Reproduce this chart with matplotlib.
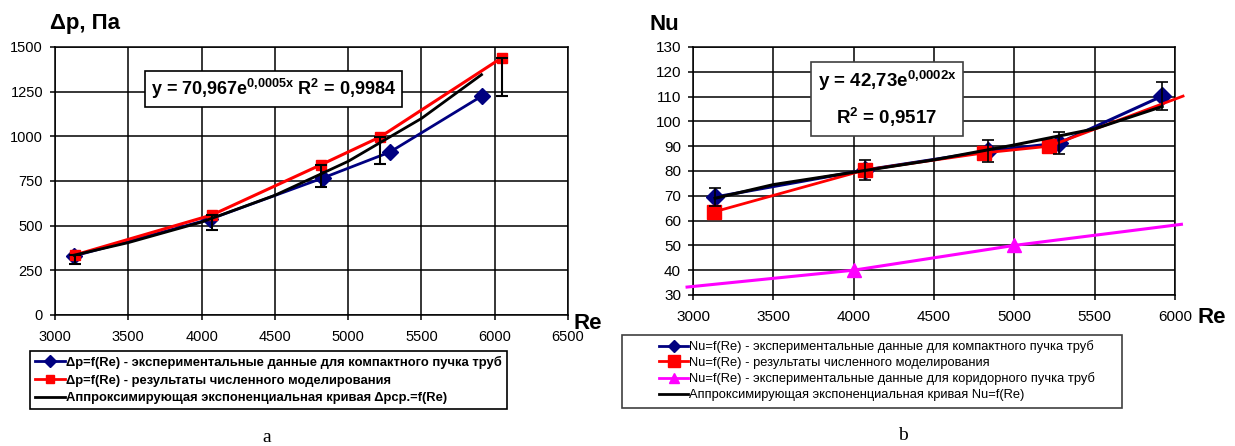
import numpy as np
import matplotlib
matplotlib.use("Agg")
import matplotlib.pyplot as plt
from matplotlib.lines import Line2D
from matplotlib.patches import Rectangle

plt.rcParams['font.family'] = ['Liberation Sans', 'DejaVu Sans']
plt.rcParams['mathtext.fontset'] = 'custom'
plt.rcParams['mathtext.rm'] = 'Liberation Sans:bold'
plt.rcParams['mathtext.it'] = 'Liberation Sans:bold'
plt.rcParams['mathtext.bf'] = 'Liberation Sans:bold'

# --- chart a: pressure drop ---
re_exp_a = [3130, 4060, 4828, 5285, 5913]
dp_exp = [330, 537, 767, 912, 1226]
re_num_a = [3136, 4071, 4812, 5217, 6049]
dp_num = [336, 560, 840, 996, 1440]
dp_err_minus = [50, 84, 126, 150, 216]
re_fit_a = [3130, 3500, 4000, 4500, 5000, 5500, 5910]
dp_fit = [335, 405, 520, 670, 860, 1100, 1345]

# --- chart b: Nusselt number ---
re_exp_b = [3137, 4070, 4837, 5279, 5920]
nu_exp = [69.5, 80.4, 88.0, 91.3, 110.2]
nu_err = [3.5, 4.0, 4.4, 4.6, 5.5]
re_num_b = [3130, 4071, 4812, 5217, 6050]
nu_num = [63.5, 80.4, 87.3, 90.0, 110.2]
re_corr = [2963, 4000, 5000, 6040]
nu_corr = [33.2, 40.0, 50.0, 58.5]
re_fit_b = [3137, 3500, 4000, 4500, 5000, 5500, 5920]
nu_fit = [69.0, 74.5, 79.5, 84.5, 90.5, 97.0, 106.0]

BLUE = '#000080'
RED = '#FF0000'
MAG = '#FF00FF'

fig = plt.figure(figsize=(12.35, 4.46), dpi=100)
W, H = 1235, 446

def px_axes(x0, y0, x1, y1):
    return fig.add_axes([x0 / W, 1 - y1 / H, (x1 - x0) / W, (y1 - y0) / H])

def style_axes(ax, fs):
    ax.grid(True, color='black', lw=1.1)
    ax.set_axisbelow(True)
    for s in ax.spines.values():
        s.set_color('black')
        s.set_linewidth(1.1)
    ax.tick_params(direction='out', length=3.6, width=1.1, labelsize=fs, pad=5)
    ax.tick_params(axis='x', pad=7)

# ---------------- a ----------------
ax1 = px_axes(55, 47, 568, 315)
style_axes(ax1, 10.5)
ax1.set_xlim(3000, 6500)
ax1.set_ylim(0, 1500)
ax1.set_xticks(np.arange(3000, 6501, 500))
ax1.set_yticks(np.arange(0, 1501, 250))

ax1.plot(re_exp_a, dp_exp, color=BLUE, lw=2, marker='D', ms=8, zorder=3)
ax1.plot(re_num_a, dp_num, color=RED, lw=2.2, marker='s', ms=7.5, zorder=4, clip_on=False)
ax1.errorbar(re_num_a, dp_num, yerr=[dp_err_minus, [0] * len(dp_num)], fmt='none',
             ecolor='black', elinewidth=1.5, capsize=4, capthick=1.5, zorder=5)
ax1.plot(re_fit_a, dp_fit, color='black', lw=2, zorder=4)

ax1.text(-0.01, 1.05, 'Δp, Па', transform=ax1.transAxes, fontsize=16,
         fontweight='bold', ha='left', va='bottom')
ax1.text(1.01, -0.03, 'Re', transform=ax1.transAxes, fontsize=16,
         fontweight='bold', ha='left', va='center')
ax1.text(3655, 1265, r'y = 70,967e$^{0{,}0005x}$ R$^{2}$ = 0,9984',
         fontsize=13, fontweight='bold', ha='left', va='center',
         bbox=dict(boxstyle='square,pad=0.35', fc='white', ec='black', lw=1.2), zorder=6)

h1 = [Line2D([], [], color=BLUE, lw=2, marker='D', ms=6),
      Line2D([], [], color=RED, lw=2, marker='s', ms=6),
      Line2D([], [], color='black', lw=2)]
l1 = ['Δp=f(Re) - экспериментальные данные для компактного пучка труб',
      'Δp=f(Re) - результаты численного моделирования',
      'Аппроксимирующая экспоненциальная кривая Δpср.=f(Re)']
leg1 = fig.legend(h1, l1, loc='upper left', bbox_to_anchor=(30 / W, 1 - 351 / H),
                  borderaxespad=0, fancybox=False, edgecolor='black', framealpha=1,
                  prop=dict(weight='bold', size=9.4), handlelength=2.3,
                  handletextpad=0.1, labelspacing=0.42, borderpad=0.38)
leg1.get_frame().set_linewidth(1.2)

fig.text(267 / W, 1 - 437 / H, 'a', fontsize=14, family='Liberation Serif',
         ha='center', va='center')

# ---------------- b ----------------
ax2 = px_axes(693, 47, 1175, 295)
style_axes(ax2, 11)
ax2.set_xlim(3000, 6000)
ax2.set_ylim(30, 130)
ax2.set_xticks(np.arange(3000, 6001, 500))
ax2.set_yticks(np.arange(30, 131, 10))

ax2.plot(re_corr, nu_corr, color=MAG, lw=2.2, clip_on=False, zorder=3)
mc = [(x, y) for x, y in zip(re_corr, nu_corr) if 3000 <= x <= 6000]
ax2.plot([p[0] for p in mc], [p[1] for p in mc], ls='none', marker='^', ms=10,
         color=MAG, clip_on=False, zorder=3)
ax2.plot(re_exp_b, nu_exp, color=BLUE, lw=2.2, marker='D', ms=9, zorder=3)
ax2.errorbar(re_exp_b, nu_exp, yerr=nu_err, fmt='none', ecolor='black',
             elinewidth=1.2, capsize=4, capthick=1.2, zorder=5)
ax2.plot(re_num_b, nu_num, color=RED, lw=2, clip_on=False, zorder=4)
mr = [(x, y) for x, y in zip(re_num_b, nu_num) if 3000 <= x <= 6000]
ax2.plot([p[0] for p in mr], [p[1] for p in mr], ls='none', marker='s', ms=10,
         color=RED, zorder=4)
ax2.plot(re_fit_b, nu_fit, color='black', lw=2.2, zorder=4)

ax2.text(-0.09, 1.05, 'Nu', transform=ax2.transAxes, fontsize=16,
         fontweight='bold', ha='left', va='bottom')
ax2.text(1.047, -0.09, 'Re', transform=ax2.transAxes, fontsize=16,
         fontweight='bold', ha='left', va='center')
ax2.text(4207, 109, 'y = 42,73e$^{0{,}0002x}$\nR$^{2}$ = 0,9517',
         fontsize=13.5, fontweight='bold', ha='center', va='center',
         multialignment='center', linespacing=1.7,
         bbox=dict(boxstyle='square,pad=0.35', fc='white', ec='#404040', lw=1.2), zorder=6)

h2 = [Line2D([], [], color=BLUE, lw=2, marker='D', ms=6),
      Line2D([], [], color=RED, lw=2, marker='s', ms=8),
      Line2D([], [], color=MAG, lw=2, marker='^', ms=7),
      Line2D([], [], color='black', lw=2)]
l2 = ['Nu=f(Re) - экспериментальные данные для компактного пучка труб',
      'Nu=f(Re) - результаты численного моделирования',
      'Nu=f(Re) - экспериментальные данные для коридорного пучка труб',
      'Аппроксимирующая экспоненциальная кривая Nu=f(Re)']
fig.add_artist(Rectangle((622 / W, 1 - 408 / H), 500 / W, 73 / H,
                         transform=fig.transFigure, fc='white', ec='#404040', lw=1.2))
leg2 = fig.legend(h2, l2, loc='upper left', bbox_to_anchor=(658 / W, 1 - 339 / H),
                  borderaxespad=0, frameon=False,
                  prop=dict(size=9.3), handlelength=2.2, handletextpad=0.1,
                  labelspacing=0.28, borderpad=0.1)

fig.text(903 / W, 1 - 435 / H, 'b', fontsize=14, family='Liberation Serif',
         ha='center', va='center')

fig.savefig('out.png', dpi=100)
